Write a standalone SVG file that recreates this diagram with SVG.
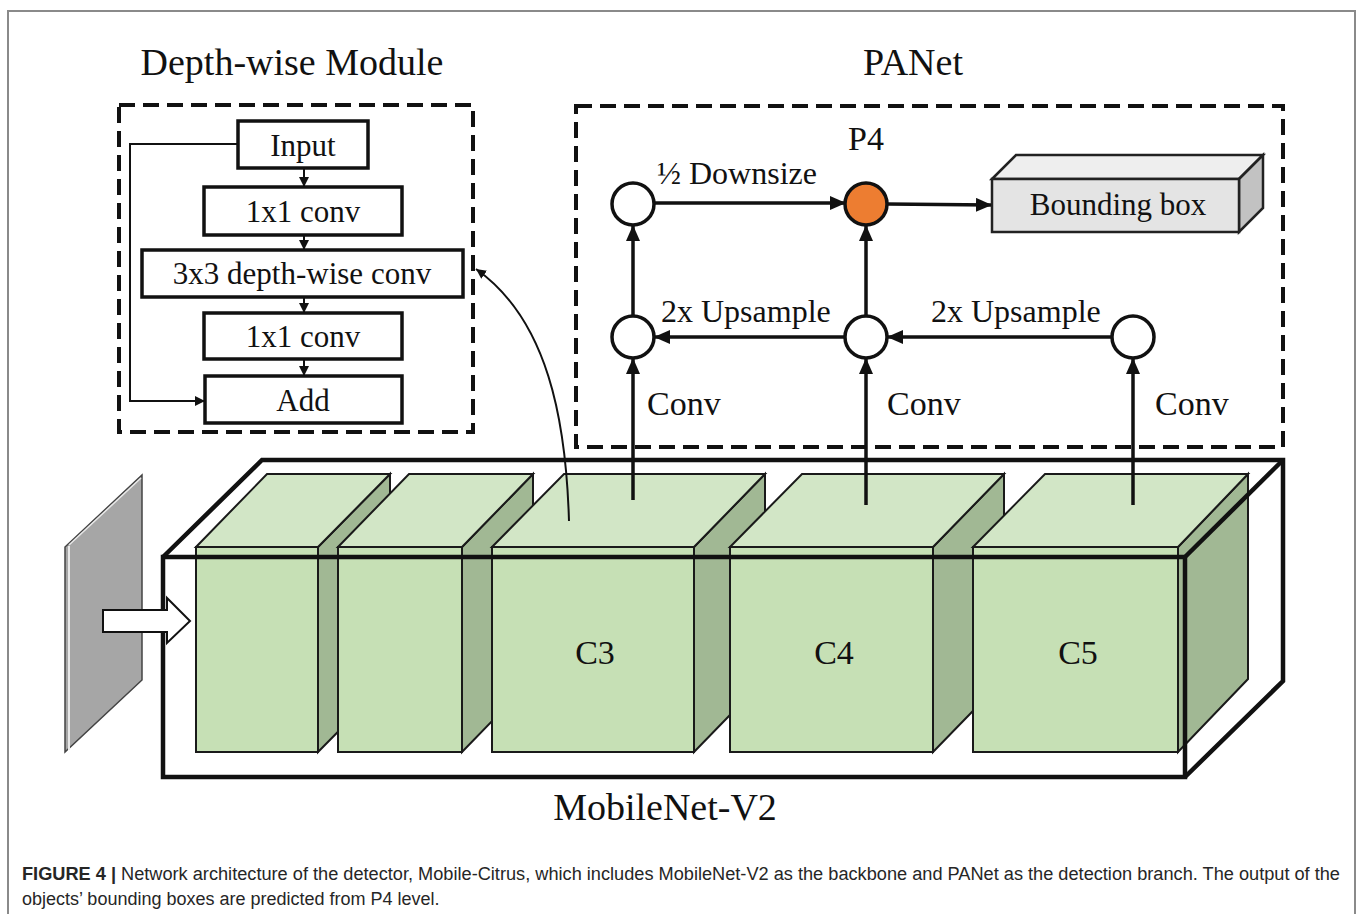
<svg xmlns="http://www.w3.org/2000/svg" width="1358" height="914" viewBox="0 0 1358 914">
<style>
  .serif { font-family: "Liberation Serif", "Times New Roman", serif; fill: #111; }
  .title { font-size: 38px; text-anchor: middle; }
  .box { fill: #fff; stroke: #111; stroke-width: 3.5; }
  .btxt { font-size: 31px; text-anchor: middle; }
  .lbl { font-size: 32px; }
  .dash { fill: none; stroke: #111; stroke-width: 4; stroke-dasharray: 16 8; }
  .node { fill: #fff; stroke: #111; stroke-width: 3.5; }
  .thick { fill: none; stroke: #111; stroke-width: 3.5; }
  .thin { fill: none; stroke: #111; stroke-width: 2; }
  .front { fill: #c6e0b5; stroke: #1a1a1a; stroke-width: 2; }
  .top { fill: #d2e6c6; stroke: #1a1a1a; stroke-width: 2; }
  .side { fill: #a1b894; stroke: #1a1a1a; stroke-width: 2; }
  .frame { fill: none; stroke: #111; stroke-width: 4.5; stroke-linejoin: miter; }
  .cap { font-family: "Liberation Sans", Arial, sans-serif; font-size: 18px; fill: #262626; }
</style>
<defs>
  <marker id="ab" markerUnits="userSpaceOnUse" markerWidth="16" markerHeight="14" refX="15" refY="7" orient="auto">
    <path d="M0,0 L16,7 L0,14 z" fill="#111"/>
  </marker>
  <marker id="as" markerUnits="userSpaceOnUse" markerWidth="10" markerHeight="10" refX="10" refY="5" orient="auto">
    <path d="M0,0 L10,5 L0,10 z" fill="#111"/>
  </marker>
</defs>

<rect x="8" y="11" width="1347" height="920" fill="#fff" stroke="#8a8a8a" stroke-width="2"/>

<!-- Titles -->
<text class="serif title" x="292" y="75">Depth-wise Module</text>
<text class="serif title" x="913" y="75">PANet</text>
<text class="serif title" x="665" y="820">MobileNet-V2</text>

<!-- Depth-wise module -->
<g id="depthwise-module">
  <rect class="dash" x="119" y="105" width="354" height="327"/>
  <g id="dw-input"><rect class="box" x="238" y="121" width="130" height="47"/><text class="serif btxt" x="303" y="156">Input</text></g>
  <g id="dw-conv1"><rect class="box" x="204" y="187" width="198" height="48"/><text class="serif btxt" x="303" y="222">1x1 conv</text></g>
  <g id="dw-dwconv"><rect class="box" x="142" y="250" width="321" height="47"/><text class="serif btxt" x="302" y="284">3x3 depth-wise conv</text></g>
  <g id="dw-conv2"><rect class="box" x="204" y="313" width="198" height="46"/><text class="serif btxt" x="303" y="347">1x1 conv</text></g>
  <g id="dw-add"><rect class="box" x="205" y="376" width="197" height="47"/><text class="serif btxt" x="303" y="411">Add</text></g>
</g>

<!-- PANet -->
<g id="panet">
  <rect class="dash" x="576" y="106" width="707" height="341"/>
  <text class="serif" x="866" y="150" font-size="34" text-anchor="middle">P4</text>
  <text class="serif lbl" x="657" y="184" font-size="33">½ Downsize</text>
  <text class="serif lbl" x="661" y="322">2x Upsample</text>
  <text class="serif lbl" x="931" y="322">2x Upsample</text>
  <text class="serif" x="647" y="415" font-size="34">Conv</text>
  <text class="serif" x="887" y="415" font-size="34">Conv</text>
  <text class="serif" x="1155" y="415" font-size="34">Conv</text>
</g>

<!-- Green backbone cubes -->
<g id="cube1">
  <polygon class="side" points="318,547 390,474 390,679 318,752"/>
  <polygon class="top" points="196,547 267,474 390,474 318,547"/>
  <rect class="front" x="196" y="547" width="122" height="205"/>
</g>
<g id="cube2">
  <polygon class="side" points="462,547 533,474 533,679 462,752"/>
  <polygon class="top" points="338,547 409,474 533,474 462,547"/>
  <rect class="front" x="338" y="547" width="124" height="205"/>
</g>
<g id="cube-c3">
  <polygon class="side" points="694,547 765,474 765,679 694,752"/>
  <polygon class="top" points="492,547 564,474 765,474 694,547"/>
  <rect class="front" x="492" y="547" width="202" height="205"/>
  <text class="serif" x="595" y="664" font-size="34" text-anchor="middle">C3</text>
</g>
<g id="cube-c4">
  <polygon class="side" points="933,547 1004,474 1004,679 933,752"/>
  <polygon class="top" points="730,547 802,474 1004,474 933,547"/>
  <rect class="front" x="730" y="547" width="203" height="205"/>
  <text class="serif" x="834" y="664" font-size="34" text-anchor="middle">C4</text>
</g>
<g id="cube-c5">
  <polygon class="side" points="1178,547 1248,474 1248,679 1178,752"/>
  <polygon class="top" points="973,547 1045,474 1248,474 1178,547"/>
  <rect class="front" x="973" y="547" width="205" height="205"/>
  <text class="serif" x="1078" y="664" font-size="34" text-anchor="middle">C5</text>
</g>

<!-- MobileNet-V2 wireframe -->
<g id="mobilenet-frame">
  <rect class="frame" x="163" y="557" width="1022" height="220"/>
  <polyline class="frame" points="163,557 262,460 1283,460 1283,681 1185,777"/>
  <line class="frame" x1="1185" y1="557" x2="1283" y2="460"/>
</g>

<!-- Input image plane -->
<g id="input-plane">
  <polygon points="65,547 142,475 142,680 65,752" fill="#a6a6a6" stroke="#444" stroke-width="1.5"/>
  <line x1="69" y1="546" x2="69" y2="750" stroke="#e8e8e8" stroke-width="2"/>
  <line x1="69" y1="545" x2="141" y2="478" stroke="#e8e8e8" stroke-width="1.5"/>
</g>
<g id="input-arrow">
  <polygon points="103,610 167,610 167,598 190,621 167,643 167,632 103,632" fill="#fff" stroke="#111" stroke-width="2"/>
</g>

<!-- PANet nodes -->
<g id="node-n3top"><ellipse class="node" cx="633" cy="204" rx="21" ry="21"/></g>
<g id="node-p4"><ellipse class="node" cx="866" cy="204" rx="21" ry="21" style="fill:#ed7d31"/></g>
<g id="node-n3"><ellipse class="node" cx="633" cy="337" rx="21" ry="21"/></g>
<g id="node-n4"><ellipse class="node" cx="866" cy="337" rx="21" ry="21"/></g>
<g id="node-n5"><ellipse class="node" cx="1133" cy="337" rx="21" ry="21"/></g>

<g id="bounding-box">
  <polygon points="992,179 1016,155 1263,155 1239,179" fill="#eeeeee" stroke="#222" stroke-width="2.5"/>
  <polygon points="1239,179 1263,155 1263,208 1239,232" fill="#c2c2c2" stroke="#222" stroke-width="2.5"/>
  <rect x="992" y="179" width="247" height="53" fill="#e4e4e4" stroke="#222" stroke-width="2.5"/>
  <text class="serif" x="1118" y="215" font-size="31" text-anchor="middle">Bounding box</text>
</g>

<!-- Connectors -->
<g id="connectors">
  <line class="thin" x1="304" y1="168" x2="304" y2="187" marker-end="url(#as)"/>
  <line class="thin" x1="304" y1="235" x2="304" y2="250" marker-end="url(#as)"/>
  <line class="thin" x1="304" y1="297" x2="304" y2="313" marker-end="url(#as)"/>
  <line class="thin" x1="304" y1="359" x2="304" y2="376" marker-end="url(#as)"/>
  <polyline class="thin" points="238,144 130,144 130,401 205,401" marker-end="url(#as)"/>
  <path class="thin" d="M569,521 C566,420 548,320 476,269" marker-end="url(#as)"/>

  <line class="thick" x1="633" y1="500" x2="633" y2="359" marker-end="url(#ab)"/>
  <line class="thick" x1="866" y1="505" x2="866" y2="359" marker-end="url(#ab)"/>
  <line class="thick" x1="1133" y1="505" x2="1133" y2="359" marker-end="url(#ab)"/>
  <line class="thick" x1="633" y1="316" x2="633" y2="226" marker-end="url(#ab)"/>
  <line class="thick" x1="866" y1="316" x2="866" y2="226" marker-end="url(#ab)"/>
  <line class="thick" x1="654" y1="203" x2="845" y2="203" marker-end="url(#ab)"/>
  <line class="thick" x1="887" y1="204" x2="991" y2="205" marker-end="url(#ab)"/>
  <line class="thick" x1="845" y1="337" x2="655" y2="337" marker-end="url(#ab)"/>
  <line class="thick" x1="1112" y1="337" x2="888" y2="337" marker-end="url(#ab)"/>
</g>

<!-- Caption -->
<text class="cap" x="22" y="880" textLength="1318" lengthAdjust="spacingAndGlyphs"><tspan font-weight="bold">FIGURE 4 | </tspan>Network architecture of the detector, Mobile-Citrus, which includes MobileNet-V2 as the backbone and PANet as the detection branch. The output of the</text>
<text class="cap" x="22" y="905">objects’ bounding boxes are predicted from P4 level.</text>
</svg>
